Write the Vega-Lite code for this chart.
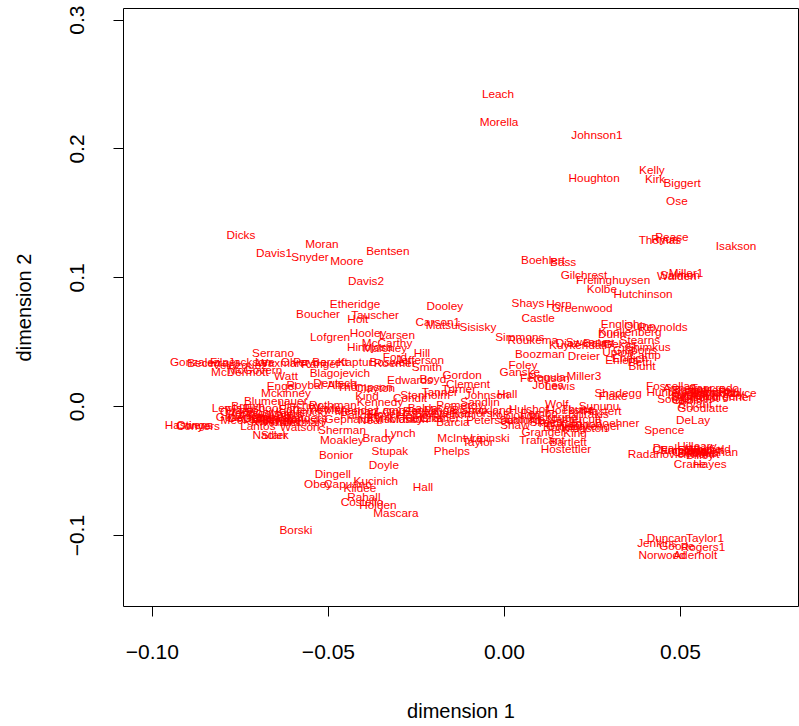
{
"$schema": "https://vega.github.io/schema/vega-lite/v6.json",
"width": 675,
"height": 598,
"autosize": {"type": "none"},
"padding": {"left": 123, "top": 8, "right": 1, "bottom": 120},
"background": "white",
"config": {"view": {"stroke": "black", "strokeWidth": 1}, "font": "Liberation Sans"},
"data": {"values": [
{"n":"Leach","x":-0.0017,"y":0.2424},{"n":"Morella","x":-0.0014,"y":0.2207},{"n":"Johnson1","x":0.0264,"y":0.2106},{"n":"Houghton","x":0.0256,"y":0.1772},{"n":"Kelly","x":0.042,"y":0.1834},{"n":"Kirk","x":0.0429,"y":0.1764},{"n":"Biggert","x":0.0506,"y":0.1733},{"n":"Ose","x":0.0491,"y":0.1593},{"n":"Thomas","x":0.0443,"y":0.129},{"n":"Pease","x":0.0477,"y":0.1313},{"n":"Ryun","x":0.0457,"y":0.1298},{"n":"Isakson","x":0.0659,"y":0.1243},{"n":"Walden","x":0.0491,"y":0.101},{"n":"Miller1","x":0.0517,"y":0.1033},{"n":"Salmon","x":0.05,"y":0.1018},{"n":"Hutchinson","x":0.0395,"y":0.087},{"n":"Kolbe","x":0.0278,"y":0.0909},{"n":"Frelinghuysen","x":0.031,"y":0.0979},{"n":"Gilchrest","x":0.0227,"y":0.1018},{"n":"Boehlert","x":0.0111,"y":0.1134},{"n":"Bass","x":0.0168,"y":0.1119},{"n":"Shays","x":0.0068,"y":0.08},{"n":"Horn","x":0.0156,"y":0.0793},{"n":"Greenwood","x":0.0222,"y":0.0761},{"n":"Castle","x":0.0097,"y":0.0684},{"n":"Sisisky","x":-0.0074,"y":0.0614},{"n":"Carson1","x":-0.0188,"y":0.0653},{"n":"Matsui","x":-0.0173,"y":0.0629},{"n":"Dooley","x":-0.0168,"y":0.0777},{"n":"English","x":0.033,"y":0.0637},{"n":"Quinn","x":0.0386,"y":0.0622},{"n":"Reynolds","x":0.0452,"y":0.0614},{"n":"Dunn","x":0.0307,"y":0.0559},{"n":"Knollenberg","x":0.0358,"y":0.0575},{"n":"Stearns","x":0.0386,"y":0.0513},{"n":"Gekas","x":0.033,"y":0.0482},{"n":"Shimkus","x":0.0409,"y":0.0458},{"n":"Gibbons","x":0.0372,"y":0.0435},{"n":"Upton","x":0.0324,"y":0.042},{"n":"Camp","x":0.0401,"y":0.0396},{"n":"Ehlers","x":0.0335,"y":0.0357},{"n":"Petri","x":0.0386,"y":0.0342},{"n":"Ehrlich","x":0.0358,"y":0.0373},{"n":"Blunt","x":0.0392,"y":0.0311},{"n":"Simmons","x":0.0045,"y":0.0536},{"n":"Roukema","x":0.0082,"y":0.0513},{"n":"Sweeney","x":0.0244,"y":0.0497},{"n":"Kuykendall","x":0.021,"y":0.0474},{"n":"Diaz-Balart","x":0.023,"y":0.049},{"n":"Boozman","x":0.0102,"y":0.0404},{"n":"Dreier","x":0.0227,"y":0.0389},{"n":"Foley","x":0.0054,"y":0.0319},{"n":"Ganske","x":0.0045,"y":0.0264},{"n":"Regula","x":0.0122,"y":0.0225},{"n":"Ferguson","x":0.0116,"y":0.0218},{"n":"Miller3","x":0.0227,"y":0.0233},{"n":"Jones","x":0.0125,"y":0.0163},{"n":"Lewis","x":0.0159,"y":0.0155},{"n":"Hall","x":0.0009,"y":0.0093},{"n":"Johnson","x":-0.0048,"y":0.0085},{"n":"Shadegg","x":0.0324,"y":0.0101},{"n":"Flake","x":0.031,"y":0.0078},{"n":"Hoekstra","x":0.0188,"y":-0.0031},{"n":"LoBiondo","x":0.0031,"y":-0.007},{"n":"Boehner","x":0.0321,"y":-0.0132},{"n":"Granger","x":0.0111,"y":-0.0202},{"n":"King","x":0.0202,"y":-0.021},{"n":"Traficant","x":0.0108,"y":-0.0264},{"n":"Bartlett","x":0.0182,"y":-0.028},{"n":"Hostettler","x":0.0176,"y":-0.0334},{"n":"Shaw","x":0.0031,"y":-0.0148},{"n":"Sanford","x":0.0045,"y":-0.0109},{"n":"Pickering","x":0.014,"y":-0.008},{"n":"Bilirakis","x":0.024,"y":-0.006},{"n":"Ballenger","x":0.026,"y":-0.015},{"n":"Packard","x":0.016,"y":-0.013},{"n":"Nethercutt","x":0.02,"y":-0.01},{"n":"Hastert","x":0.028,"y":-0.004},{"n":"Skeen","x":0.012,"y":-0.012},{"n":"Kingston","x":0.023,"y":-0.017},{"n":"Pombo","x":0.01,"y":-0.005},{"n":"Sununu","x":0.027,"y":0.0},{"n":"Wolf","x":0.015,"y":0.002},{"n":"Thune","x":0.021,"y":-0.002},{"n":"Hulshof","x":0.007,"y":-0.002},{"n":"Latham","x":0.006,"y":-0.01},{"n":"Bono","x":0.015,"y":-0.016},{"n":"Gallegly","x":0.018,"y":-0.015},{"n":"Cannon","x":0.022,"y":-0.014},
{"n":"Kind","x":-0.0389,"y":0.0078},{"n":"Kennedy","x":-0.0352,"y":0.0031},{"n":"Thompson","x":-0.0395,"y":0.0148},{"n":"Clayton","x":-0.0366,"y":0.014},{"n":"Edwards","x":-0.0267,"y":0.0202},{"n":"Boyd","x":-0.0202,"y":0.021},{"n":"Clement","x":-0.0102,"y":0.0171},{"n":"Turner","x":-0.0128,"y":0.0132},{"n":"Gordon","x":-0.0119,"y":0.0241},{"n":"Tanner","x":-0.0182,"y":0.0109},{"n":"Stenholm","x":-0.0224,"y":0.0085},{"n":"Condit","x":-0.0267,"y":0.0062},{"n":"Barcia","x":-0.0145,"y":-0.0124},{"n":"Kanjorski","x":-0.0077,"y":-0.0054},{"n":"Peterson","x":-0.004,"y":-0.0109},{"n":"Baldacci","x":-0.021,"y":-0.0016},{"n":"Minge","x":-0.0182,"y":-0.0031},{"n":"Pomeroy","x":-0.0125,"y":0.0008},{"n":"Sandlin","x":-0.0068,"y":0.0031},{"n":"Lampson","x":-0.0295,"y":-0.0031},{"n":"Hefner","x":-0.0253,"y":-0.007},{"n":"Ortiz","x":-0.031,"y":-0.0047},{"n":"Reyes","x":-0.0239,"y":-0.0039},{"n":"Bishop","x":-0.0097,"y":-0.0031},{"n":"Cramer","x":-0.0182,"y":-0.0093},{"n":"Rothman","x":-0.0486,"y":0.0008},{"n":"Wexler","x":-0.0503,"y":-0.0016},{"n":"Menendez","x":-0.0432,"y":-0.0031},{"n":"Sherman","x":-0.046,"y":-0.0186},{"n":"Brady","x":-0.0358,"y":-0.0249},{"n":"Lynch","x":-0.0295,"y":-0.021},{"n":"Moakley","x":-0.046,"y":-0.0264},{"n":"Pallone","x":-0.0409,"y":-0.007},{"n":"Klink","x":-0.0352,"y":-0.0093},{"n":"Meehan","x":-0.042,"y":-0.004},{"n":"Hoyer","x":-0.034,"y":-0.006},{"n":"Visclosky","x":-0.03,"y":-0.01},{"n":"Skelton","x":-0.015,"y":-0.006},{"n":"Neal","x":-0.038,"y":-0.011},{"n":"Gephardt","x":-0.044,"y":-0.01},{"n":"Manton","x":-0.027,"y":-0.01},{"n":"Kleczka","x":-0.023,"y":-0.009},{"n":"Sawyer","x":-0.02,"y":-0.005},{"n":"Strickland","x":-0.005,"y":-0.003},{"n":"Borski","x":-0.0591,"y":-0.0963},{"n":"Bonior","x":-0.0477,"y":-0.0381},{"n":"Stupak","x":-0.0324,"y":-0.035},{"n":"Phelps","x":-0.0148,"y":-0.035},{"n":"McIntyre","x":-0.0125,"y":-0.0249},{"n":"Taylor","x":-0.0074,"y":-0.028},{"n":"Lipinski","x":-0.004,"y":-0.0249},{"n":"Doyle","x":-0.0341,"y":-0.0458},{"n":"Dingell","x":-0.0486,"y":-0.0528},{"n":"Kucinich","x":-0.0364,"y":-0.0583},{"n":"Obey","x":-0.0528,"y":-0.0606},{"n":"Capuano","x":-0.0443,"y":-0.0606},{"n":"Kildee","x":-0.0409,"y":-0.0637},{"n":"Hall","x":-0.023,"y":-0.0629},{"n":"Rahall","x":-0.0398,"y":-0.0707},{"n":"Costello","x":-0.0403,"y":-0.0746},{"n":"Holden","x":-0.0358,"y":-0.0769},{"n":"Mascara","x":-0.0307,"y":-0.0831},
{"n":"Etheridge","x":-0.0423,"y":0.0793},{"n":"Boucher","x":-0.0528,"y":0.0715},{"n":"Tauscher","x":-0.0366,"y":0.0707},{"n":"Holt","x":-0.0415,"y":0.0676},{"n":"Lofgren","x":-0.0494,"y":0.0536},{"n":"Hooley","x":-0.0386,"y":0.0567},{"n":"Larsen","x":-0.0304,"y":0.0552},{"n":"McCarthy","x":-0.0332,"y":0.049},{"n":"Maloney","x":-0.0338,"y":0.0451},{"n":"Hinojosa","x":-0.0381,"y":0.0458},{"n":"Hill","x":-0.0233,"y":0.0412},{"n":"Ford","x":-0.031,"y":0.0381},{"n":"Jefferson","x":-0.0239,"y":0.0357},{"n":"Smith","x":-0.0219,"y":0.0303},{"n":"Roemer","x":-0.031,"y":0.0334},{"n":"Kaptur","x":-0.0423,"y":0.0342},{"n":"Barrett","x":-0.0494,"y":0.0342},{"n":"Blagojevich","x":-0.0466,"y":0.0256},{"n":"Deutsch","x":-0.048,"y":0.0179},{"n":"Roybal-Allard","x":-0.0517,"y":0.0163},{"n":"Boswell","x":-0.0324,"y":0.0342},
{"n":"Dicks","x":-0.0747,"y":0.1329},{"n":"Davis1","x":-0.0653,"y":0.1189},{"n":"Moran","x":-0.0517,"y":0.1259},{"n":"Snyder","x":-0.0551,"y":0.1158},{"n":"Moore","x":-0.0446,"y":0.1127},{"n":"Bentsen","x":-0.033,"y":0.1204},{"n":"Davis2","x":-0.0392,"y":0.0971},{"n":"Serrano","x":-0.0656,"y":0.0412},{"n":"Becerra","x":-0.0841,"y":0.0334},{"n":"Gonzalez","x":-0.0878,"y":0.0342},{"n":"Filner","x":-0.0793,"y":0.0342},{"n":"Jackson","x":-0.0722,"y":0.0342},{"n":"Lee","x":-0.0679,"y":0.0342},{"n":"Waxman","x":-0.0636,"y":0.0334},{"n":"Olver","x":-0.0594,"y":0.0342},{"n":"Payne","x":-0.0551,"y":0.0342},{"n":"Rangel","x":-0.0523,"y":0.0326},{"n":"Velazquez","x":-0.075,"y":0.0318},{"n":"McDermott","x":-0.075,"y":0.0264},{"n":"McGovern","x":-0.0707,"y":0.028},{"n":"Watt","x":-0.0619,"y":0.0233},{"n":"Engel","x":-0.0631,"y":0.0155},{"n":"Mckinney","x":-0.0619,"y":0.0101},{"n":"Blumenauer","x":-0.0648,"y":0.0039},{"n":"Hastings","x":-0.0898,"y":-0.0148},{"n":"Conyers","x":-0.0869,"y":-0.0155},{"n":"Owens","x":-0.0878,"y":-0.0148},{"n":"Watson","x":-0.058,"y":-0.0163},{"n":"Nadler","x":-0.0665,"y":-0.0225},{"n":"Stark","x":-0.0651,"y":-0.0225},{"n":"Lewis1","x":-0.0778,"y":-0.0016},{"n":"Frank","x":-0.075,"y":-0.0031},{"n":"Pelosi","x":-0.0707,"y":-0.0047},{"n":"Woolsey","x":-0.0665,"y":-0.0054},{"n":"Waters","x":-0.0622,"y":-0.0062},{"n":"Kilpatrick","x":-0.058,"y":-0.0047},{"n":"DeGette","x":-0.0722,"y":-0.0093},{"n":"Miller","x":-0.0679,"y":-0.0109},{"n":"Delahunt","x":-0.0636,"y":-0.0093},{"n":"Schakowsky","x":-0.0594,"y":-0.0109},{"n":"Lantos","x":-0.0699,"y":-0.0155},{"n":"Clay","x":-0.0773,"y":-0.0047},{"n":"Meek","x":-0.0764,"y":-0.0109},{"n":"Brown","x":-0.0727,"y":0.0},{"n":"Eshoo","x":-0.0688,"y":-0.0016},{"n":"Farr","x":-0.0608,"y":-0.0023},{"n":"Sanders","x":-0.0565,"y":-0.0093},{"n":"Tierney","x":-0.0551,"y":-0.0031},{"n":"Markey","x":-0.0736,"y":-0.007},{"n":"Hinchey","x":-0.058,"y":0.0008},{"n":"Gutierrez","x":-0.075,"y":-0.008},{"n":"Rivers","x":-0.067,"y":-0.012},{"n":"Capps","x":-0.07,"y":-0.01},{"n":"Wynn","x":-0.064,"y":-0.011},{"n":"Mink","x":-0.061,"y":-0.012},{"n":"Berman","x":-0.057,"y":-0.012},{"n":"Kennedy1","x":-0.065,"y":-0.008},
{"n":"Fossella","x":0.0466,"y":0.0155},{"n":"Hunter","x":0.0455,"y":0.0109},{"n":"Armey","x":0.05,"y":0.014},{"n":"Burton","x":0.0528,"y":0.0124},{"n":"Barr","x":0.0557,"y":0.0132},{"n":"Coburn","x":0.0585,"y":0.0109},{"n":"Hefley","x":0.0614,"y":0.0124},{"n":"Paul","x":0.0642,"y":0.0109},{"n":"Royce","x":0.067,"y":0.0101},{"n":"Cox","x":0.0571,"y":0.0078},{"n":"DeMint","x":0.0528,"y":0.0078},{"n":"Tancredo","x":0.0599,"y":0.014},{"n":"Pitts","x":0.0543,"y":0.0101},{"n":"Sensenbrenner","x":0.0591,"y":0.007},{"n":"Chabot","x":0.0557,"y":0.0062},{"n":"Istook","x":0.0509,"y":0.0085},{"n":"Largent","x":0.0628,"y":0.0078},{"n":"Souder","x":0.0489,"y":0.0054},{"n":"Goodlatte","x":0.0565,"y":-0.0016},{"n":"Bryant","x":0.0543,"y":0.0016},{"n":"DeLay","x":0.0537,"y":-0.0109},{"n":"Spence","x":0.0455,"y":-0.0186},{"n":"Hayworth","x":0.06,"y":0.01},{"n":"Sessions","x":0.055,"y":0.011},{"n":"Cubin","x":0.052,"y":0.005},
{"n":"Radanovich","x":0.044,"y":-0.0373},{"n":"Hilleary","x":0.0548,"y":-0.0311},{"n":"Deal","x":0.0457,"y":-0.0326},{"n":"Collins","x":0.0528,"y":-0.0357},{"n":"Everett","x":0.0571,"y":-0.0342},{"n":"Callahan","x":0.0599,"y":-0.0357},{"n":"Bliley","x":0.0557,"y":-0.0381},{"n":"Chambliss","x":0.05,"y":-0.0342},{"n":"Crane","x":0.0528,"y":-0.0451},{"n":"Hayes","x":0.0585,"y":-0.0451},{"n":"Linder","x":0.054,"y":-0.035},{"n":"Whitfield","x":0.058,"y":-0.033},{"n":"Bachus","x":0.055,"y":-0.036},{"n":"Tiahrt","x":0.057,"y":-0.037},{"n":"Emerson1","x":0.052,"y":-0.034},
{"n":"Duncan","x":0.0463,"y":-0.1026},{"n":"Taylor1","x":0.0571,"y":-0.1026},{"n":"Jenkins","x":0.0435,"y":-0.1064},{"n":"Goode","x":0.0491,"y":-0.1088},{"n":"Rogers1","x":0.0565,"y":-0.1096},{"n":"Norwood","x":0.0449,"y":-0.1158},{"n":"Aderholt","x":0.0543,"y":-0.1158}
]},
"mark": {"type": "text", "color": "#FF0000", "fontSize": 11.8, "font": "Liberation Sans", "align": "center", "baseline": "middle"},
"encoding": {
"x": {"field": "x", "type": "quantitative", "scale": {"domain": [-0.1082, 0.0835], "nice": false, "zero": false},
"axis": {"values": [-0.1, -0.05, 0, 0.05], "format": ".2f", "grid": false, "domain": false, "tickColor": "black", "tickSize": 10, "labelPadding": 25, "labelFontSize": 21, "labelColor": "black", "labelFont": "Liberation Sans", "title": "dimension 1", "titleFontSize": 20, "titleFont": "Liberation Sans", "titleFontWeight": "normal", "titleColor": "black", "titleX": 337.5, "titleY": 105, "titleBaseline": "middle", "titleAlign": "center"}},
"y": {"field": "y", "type": "quantitative", "scale": {"domain": [-0.155, 0.309], "nice": false, "zero": false},
"axis": {"values": [-0.1, 0, 0.1, 0.2, 0.3], "format": ".1f", "grid": false, "domain": false, "tickColor": "black", "tickSize": 10, "labelPadding": 26, "labelAngle": -90, "labelAlign": "center", "labelBaseline": "bottom", "labelFontSize": 21, "labelColor": "black", "labelFont": "Liberation Sans", "title": "dimension 2", "titleFontSize": 20, "titleFont": "Liberation Sans", "titleFontWeight": "normal", "titleColor": "black", "titleAngle": -90, "titleX": -99, "titleY": 299, "titleBaseline": "middle", "titleAlign": "center"}},
"text": {"field": "n"}
}
}
